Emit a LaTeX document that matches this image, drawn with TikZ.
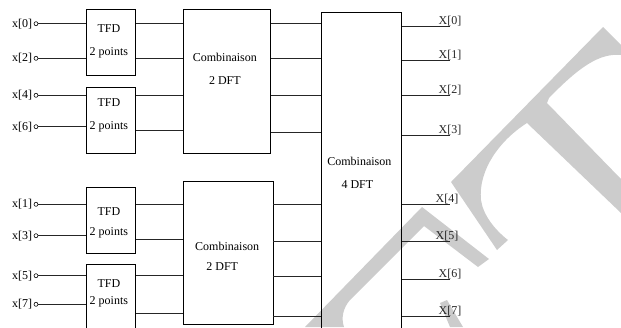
\documentclass[tikz,border=0pt]{standalone}
\usepackage{fontspec}
\setmainfont{Liberation Serif}
\usetikzlibrary{positioning}

\begin{document}
\begin{tikzpicture}[
  x=1pt, y=-1pt, font=\fontsize{12}{14}\selectfont,
  blk/.style={draw, line width=0.7pt, rectangle, anchor=north west, inner sep=0pt},
  pin/.style={draw, circle, line width=0.6pt, minimum size=4pt, inner sep=0pt},
  wire/.style={line width=0.7pt, black!85},
  lbl/.style={inner sep=1pt},
  outl/.style={above, inner sep=0pt},
  wm/.style={fill=gray!40, draw=none}
]
\useasboundingbox (0,0) rectangle (621,327);
\clip (0,0) rectangle (621,327);
% ---------------- watermark ----------------
\fill[wm] (451,182) -- (603,27) -- (621,45) -- (621,55)
  .. controls (600,53) and (580,66) .. (549,98) -- (547,103) -- (621,179)
  -- (621,213) -- (527,123) .. controls (500,140) and (478,170) .. (481,200)
  .. controls (483,215) and (495,230) .. (508,240) -- (497,250) -- cycle;
\fill[wm] (305,327) -- (422,207) -- (489,259) -- (478,267) -- (424,226)
  -- (350,300) .. controls (343,308) and (341,318) .. (344,327) -- cycle;
\fill[wm] (440,303) -- (447,300) -- (463,327) -- (450,327) -- cycle;
% ---------------- blocks ----------------
\node[blk, minimum width=49pt, minimum height=66pt] (tfdA) at (86,9) {};
\node[blk, minimum width=49pt, minimum height=66pt] (tfdB) at (86,87) {};
\node[blk, minimum width=49pt, minimum height=66pt] (tfdC) at (86,187.3) {};
\node[blk, minimum width=49pt, minimum height=66pt] (tfdD) at (86,264.3) {};
\node[blk, minimum width=87pt, minimum height=143.7pt] (combA) at (183,9.3) {};
\node[blk, minimum width=89.7pt, minimum height=143.3pt] (combB) at (183,181) {};
\node[blk, minimum width=80pt, minimum height=330pt] (fin) at (321,12.3) {};
% block texts
\node[lbl] (tA1) at ([xshift=-2pt, yshift=-20pt]tfdA.north) {TFD};
\node[lbl] (tA2) at ([xshift=-2pt, yshift=-44pt]tfdA.north) {2 points};
\node[lbl] (tB1) at ([xshift=-2pt, yshift=-16pt]tfdB.north) {TFD};
\node[lbl] (tB2) at ([xshift=-2pt, yshift=-40pt]tfdB.north) {2 points};
\node[lbl] (tC1) at ([xshift=-2pt, yshift=-24.7pt]tfdC.north) {TFD};
\node[lbl] (tC2) at ([xshift=-2pt, yshift=-45.4pt]tfdC.north) {2 points};
\node[lbl] (tD1) at ([xshift=-2pt, yshift=-19.7pt]tfdD.north) {TFD};
\node[lbl] (tD2) at ([xshift=-2pt, yshift=-37.4pt]tfdD.north) {2 points};
\node[lbl] (cA1) at ([xshift=-2pt, yshift=-47.7pt]combA.north) {Combinaison};
\node[lbl] (cA2) at ([xshift=-2pt, yshift=-71.7pt]combA.north) {2 DFT};
\node[lbl] (cB1) at ([xshift=-1pt, yshift=-65.7pt]combB.north) {Combinaison};
\node[lbl] (cB2) at ([xshift=-6pt, yshift=-85.7pt]combB.north) {2 DFT};
\node[lbl] (f1) at ([xshift=-2pt, yshift=-149.4pt]fin.north) {Combinaison};
\node[lbl] (f2) at ([xshift=-4pt, yshift=-172.7pt]fin.north) {4 DFT};
% ---------------- inputs ----------------
\node[pin] (p0) at (36,23.7) {};
\node[pin] (p2) at (36,58.3) {};
\node[pin] (p4) at (36,95.3) {};
\node[pin] (p6) at (36,126.7) {};
\node[pin] (p1) at (36,204.3) {};
\node[pin] (p3) at (36,235.7) {};
\node[pin] (p5) at (36,275.7) {};
\node[pin] (p7) at (36,304.3) {};
\node[lbl, left=0.5pt of p0] (l0) {x[0]};
\node[lbl, left=0.5pt of p2] (l2) {x[2]};
\node[lbl, left=0.5pt of p4] (l4) {x[4]};
\node[lbl, left=0.5pt of p6] (l6) {x[6]};
\node[lbl, left=0.5pt of p1] (l1) {x[1]};
\node[lbl, left=0.5pt of p3] (l3) {x[3]};
\node[lbl, left=0.5pt of p5] (l5) {x[5]};
\node[lbl, left=0.5pt of p7] (l7) {x[7]};
\draw[wire] (p0) -- (p0 -| tfdA.west);
\draw[wire] (p2) -- (p2 -| tfdA.west);
\draw[wire] (p4) -- (p4 -| tfdB.west);
\draw[wire] (p6) -- (p6 -| tfdB.west);
\draw[wire] (p1) -- (p1 -| tfdC.west);
\draw[wire] (p3) -- (p3 -| tfdC.west);
\draw[wire] (p5) -- (p5 -| tfdD.west);
\draw[wire] (p7) -- (p7 -| tfdD.west);
% ---------------- stage 1 -> stage 2 ----------------
\coordinate (b1) at (0,130);
\coordinate (c1) at (0,239);
\coordinate (d1) at (0,313.3);
\draw[wire] (tfdA.east |- p0) -- (combA.west |- p0);
\draw[wire] (tfdA.east |- p2) -- (combA.west |- p2);
\draw[wire] (tfdB.east |- p4) -- (combA.west |- p4);
\draw[wire] (tfdB.east |- b1) -- (combA.west |- b1);
\draw[wire] (tfdC.east |- p1) -- (combB.west |- p1);
\draw[wire] (tfdC.east |- c1) -- (combB.west |- c1);
\draw[wire] (tfdD.east |- p5) -- (combB.west |- p5);
\draw[wire] (tfdD.east |- d1) -- (combB.west |- d1);
% ---------------- stage 2 -> stage 3 ----------------
\coordinate (e3) at (0,132.7);
\coordinate (g1) at (0,241.7);
\coordinate (g2) at (0,276.7);
\coordinate (g3) at (0,316.7);
\draw[wire] (combA.east |- p0) -- (fin.west |- p0);
\draw[wire] (combA.east |- p2) -- (fin.west |- p2);
\draw[wire] (combA.east |- p4) -- (fin.west |- p4);
\draw[wire] (combA.east |- e3) -- (fin.west |- e3);
\draw[wire] (combB.east |- p1) -- (fin.west |- p1);
\draw[wire] (combB.east |- g1) -- (fin.west |- g1);
\draw[wire] (combB.east |- g2) -- (fin.west |- g2);
\draw[wire] (combB.east |- g3) -- (fin.west |- g3);
% ---------------- outputs ----------------
\coordinate (o0) at (450,26);
\coordinate (o1) at (450,60.7);
\coordinate (o2) at (450,95.7);
\coordinate (o3) at (450,135);
\coordinate (o4) at (450,204.3);
\coordinate (o5) at (450,241.7);
\coordinate (o6) at (450,279.3);
\coordinate (o7) at (450,316.7);
\draw[wire] (fin.east |- o0) -- (o0) node[outl] (X0) {X[0]};
\draw[wire] (fin.east |- o1) -- (o1) node[outl] (X1) {X[1]};
\draw[wire] (fin.east |- o2) -- (o2) node[outl] (X2) {X[2]};
\draw[wire] (fin.east |- o3) -- (o3) node[outl] (X3) {X[3]};
\draw[wire] (fin.east |- o4) -- (o4) node[outl, xshift=-3pt] (X4) {X[4]};
\draw[wire] (fin.east |- o5) -- (o5) node[outl, xshift=-3pt] (X5) {X[5]};
\draw[wire] (fin.east |- o6) -- (o6) node[outl] (X6) {X[6]};
\draw[wire] (fin.east |- o7) -- (o7) node[outl] (X7) {X[7]};
\end{tikzpicture}
\end{document}
